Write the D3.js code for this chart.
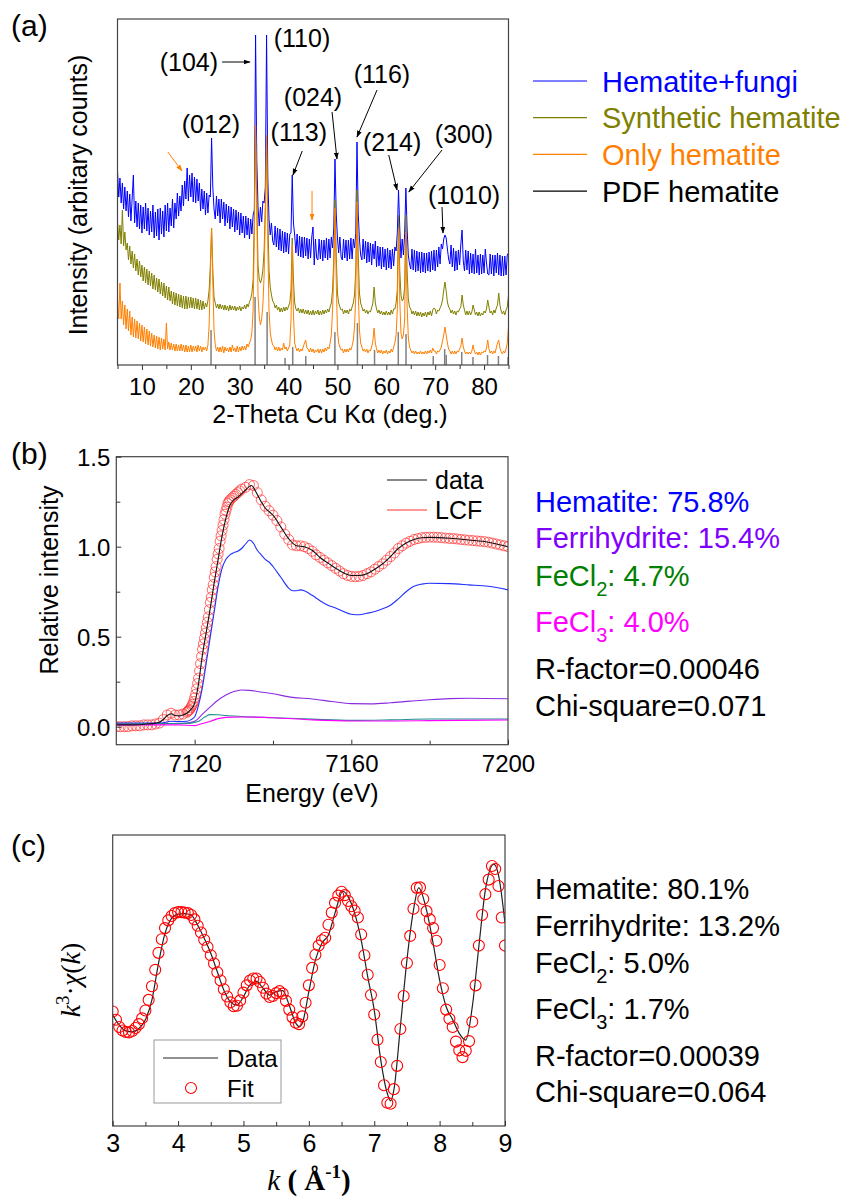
<!DOCTYPE html>
<html>
<head>
<meta charset="utf-8">
<script src="https://cdn.jsdelivr.net/npm/d3@7"></script>
<style>
  body { margin: 0; background: #fff; }
  svg { display: block; }
</style>
</head>
<body>
<svg id="fig" width="847" height="1198"></svg>
<script>
// ---------- (a) XRD patterns, 2-theta from 5 to 85 every 0.25 deg ----------
const xrdStart = 5, xrdStep = 0.25;
const fungiCounts = [
 194,168,187,162, 182,156,178,154, 174,148,171,144, 167,190,142,164, 138,162,136,160,
 132,158,136,162, 134,157,130,154, 133,160,127,153, 129,156,125,157, 131,154,128,160,
 134,162,133,157, 139,166,137,162, 146,172,149,169, 154,180,159,184, 166,197,164,190,
 168,192,163,188, 162,186,164,182, 154,176,156,174, 150,172,152,170, 168,227,178,156,
 146,169,149,166, 142,166,146,163, 139,161,142,159, 136,158,138,156, 133,155,135,153,
 130,152,132,149, 127,149,130,147, 126,146,131,150, 155,330,205,158, 139,158,143,164,
 162,178,330,188, 146,130,142,124, 120,139,118,137, 115,136,114,134, 112,133,113,132,
 111,131,132,190, 142,130,112,131, 109,129,108,128, 107,128,109,127, 106,126,107,128,
 138,100,126,107, 105,126,106,125, 104,125,107,127, 105,126,107,128, 117,137,206,152,
 127,112,128,108, 105,126,107,125, 104,125,106,127, 106,126,117,132, 223,152,126,110,
 105,126,106,124, 102,123,103,122, 100,121,106,124, 98,119,99,118, 96,118,98,116,
 95,117,97,115, 96,116,99,118, 114,132,175,137, 107,126,110,131, 177,137,110,101,
 96,116,95,115, 93,114,94,113, 92,113,93,112, 92,112,94,113, 93,114,95,115,
 94,115,98,118, 101,121,116,126, 130,127,116,106, 101,120,98,117, 94,114,95,115,
 100,121,135,104, 94,115,95,114, 91,112,92,111, 91,116,92,110, 90,111,91,110,
 92,116,102,91, 90,111,91,110, 89,110,92,112, 90,110,89,109, 89,109,90,110,
 112];
const synthCounts = [
 143,125,140,121, 155,119,133,115, 122,105,119,101, 114,97,111,94, 106,90,104,88,
 100,84,98,82, 96,80,94,79, 92,76,90,75, 87,73,86,71, 83,69,82,67,
 79,65,78,64, 74,61,73,60, 72,59,71,58, 70,57,69,56, 69,56,68,57,
 68,57,67,56, 67,56,66,55, 65,55,64,56, 62,58,64,75, 100,137,95,68,
 62,57,61,56, 61,56,60,55, 60,55,59,54, 60,55,59,55, 59,54,58,55,
 59,54,58,56, 60,56,61,58, 63,66,72,85, 150,240,170,100, 86,82,86,95,
 115,160,230,150, 95,78,70,64, 62,57,60,55, 58,53,57,53, 58,54,58,55,
 59,62,75,127, 85,62,56,54, 57,52,56,52, 56,51,55,51, 55,50,54,50,
 55,50,54,51, 55,50,54,50, 55,51,55,52, 56,53,58,62, 75,105,165,110,
 72,62,58,55, 56,51,55,52, 55,51,56,54, 58,62,70,95, 175,110,72,62,
 58,54,56,52, 55,51,54,53, 57,62,78,62, 56,52,55,51, 54,50,53,50,
 54,50,53,50, 55,51,56,56, 62,75,150,95, 70,64,66,78, 150,95,66,58,
 56,51,54,50, 54,49,53,49, 53,48,52,49, 53,48,53,50, 54,49,55,57,
 56,51,55,54, 57,60,65,75, 83,74,63,58, 56,52,55,51, 54,50,54,53,
 56,58,70,60, 55,50,54,50, 54,50,53,60, 55,50,53,49, 53,49,52,50,
 54,52,56,65, 58,52,54,50, 55,52,57,60, 72,60,54,51, 54,50,55,58,
 70];
const onlyCounts = [
 66,46,82,46, 64,40,60,36, 56,34,54,30, 48,28,46,27, 44,26,42,24,
 40,23,38,21, 36,20,34,19, 32,18,30,17, 29,16,28,15, 27,16,26,15,
 42,16,23,15, 22,15,21,14, 21,14,20,14, 21,14,20,13, 20,13,19,13,
 20,13,19,14, 19,13,20,14, 19,13,18,15, 18,14,20,40, 90,137,85,35,
 20,14,18,13, 18,13,19,12, 18,14,17,13, 18,13,20,14, 17,13,19,13,
 18,14,19,15, 19,15,21,18, 22,25,33,55, 130,240,150,70, 48,40,46,60,
 90,150,230,120, 55,33,25,20, 19,15,18,14, 18,14,17,15, 22,16,18,14,
 17,20,45,120, 50,22,17,14, 17,13,16,14, 18,22,25,17, 16,13,17,13,
 16,12,15,13, 16,12,16,12, 16,13,17,14, 18,16,22,30, 55,90,157,85,
 35,22,18,15, 16,12,16,13, 16,13,17,15, 19,25,38,70, 163,75,35,22,
 18,14,16,13, 16,12,15,14, 18,24,37,22, 16,12,15,12, 15,11,14,12,
 15,11,14,12, 16,13,18,22, 30,55,137,65, 32,26,30,45, 133,60,28,18,
 15,12,14,11, 14,11,13,11, 14,11,13,11, 14,11,14,12, 15,12,17,14,
 14,11,14,13, 15,18,24,30, 38,30,22,16, 14,11,14,11, 14,11,14,13,
 16,19,27,18, 14,11,13,11, 13,11,14,20, 14,11,13,10, 13,10,13,12,
 14,13,17,25, 16,12,14,11, 14,12,17,22, 25,17,13,11, 14,12,16,22,
 38];
const pdfPos = [24.14, 33.15, 35.61, 39.28, 40.85, 43.52, 49.48, 54.09, 57.59, 62.45,
                64.03, 69.6, 71.94, 72.26, 75.43, 77.73, 80.71, 82.94, 84.91];
const pdfInt = [35, 68, 53, 7, 18, 9, 33, 42, 15, 33, 31, 9, 16, 10, 13, 8, 10, 9, 8];
const xrdLegend = ["Hematite+fungi", "Synthetic hematite", "Only hematite", "PDF hematite"];
const xrdColors = ["#0000ff", "#808000", "#ff7f00", "#000000"];
const peakLabels = ["(104)", "(110)", "(012)", "(113)", "(024)", "(116)", "(214)", "(300)", "(1010)"];
const peakLabelPos = [[19.6,303],[42.75,327],[24.1,241],[42.1,233],[45.0,268],[59.1,291],[61.2,223],[75.9,231],[75.9,170]];
const peakArrows = [[26.4,303,32.1,303],[42.8,214,40.9,190],[48.9,253,49.9,206],[58.1,275,54.0,228],
                    [60.5,210,62.2,175],[71.4,215,64.6,173],[71.4,158,71.6,132]];
const fungiArrows = [[15.3,213,18.2,194],[44.8,174,44.8,145]];

// ---------- (b) Fe K-edge XANES and LCF ----------
const xanesData = [[7100,0.01],[7104,0.01],[7108,0.015],[7110,0.02],[7111,0.025],[7112,0.04],[7113,0.062],
 [7114,0.072],[7115,0.062],[7116,0.06],[7117,0.065],[7118,0.075],[7119,0.095],[7120,0.13],[7121,0.24],
 [7122,0.40],[7123,0.53],[7124,0.66],[7125,0.80],[7126,0.93],[7127,1.06],[7128,1.16],[7129,1.23],
 [7130,1.26],[7131,1.275],[7132,1.295],[7133,1.315],[7134,1.335],[7134.5,1.34],[7135,1.33],[7136,1.29],
 [7137,1.25],[7138,1.215],[7139,1.195],[7140,1.175],[7142,1.11],[7144,1.045],[7146,1.005],[7148,1.0],
 [7150,0.98],[7152,0.94],[7154,0.91],[7156,0.88],[7158,0.855],[7160,0.84],[7162,0.84],[7164,0.85],
 [7166,0.875],[7168,0.905],[7170,0.945],[7172,0.99],[7174,1.02],[7176,1.04],[7178,1.05],[7180,1.052],
 [7185,1.047],[7190,1.037],[7195,1.025],[7200,1.0]];
const lcfFit = [[7100,0],[7101,0],[7102,0],[7103,0],[7104,0.005],[7105,0.005],[7106,0.005],[7107,0.01],
 [7108,0.01],[7109,0.01],[7110,0.015],[7111,0.02],[7112,0.04],[7113,0.065],[7114,0.075],[7115,0.065],
 [7116,0.065],[7117,0.07],[7118,0.08],[7118.25,0.085],[7118.5,0.09],[7118.75,0.095],[7119,0.105],
 [7119.25,0.115],[7119.5,0.125],[7119.75,0.14],[7120,0.16],[7120.25,0.18],[7120.5,0.21],[7120.75,0.24],
 [7121,0.27],[7121.25,0.31],[7121.5,0.35],[7121.75,0.39],[7122,0.43],[7122.25,0.46],[7122.5,0.49],
 [7122.75,0.52],[7123,0.55],[7123.25,0.58],[7123.5,0.61],[7123.75,0.65],[7124,0.69],[7124.25,0.72],
 [7124.5,0.76],[7124.75,0.79],[7125,0.83],[7125.25,0.86],[7125.5,0.89],[7125.75,0.93],[7126,0.96],
 [7126.25,0.99],[7126.5,1.03],[7126.75,1.06],[7127,1.09],[7127.25,1.12],[7127.5,1.15],[7127.75,1.18],
 [7128,1.20],[7128.25,1.22],[7128.5,1.24],[7128.75,1.25],[7129,1.26],[7129.5,1.27],[7130,1.28],
 [7130.5,1.29],[7131,1.30],[7131.5,1.31],[7132,1.32],[7133,1.33],[7134,1.345],[7135,1.34],[7136,1.30],
 [7137,1.26],[7138,1.225],[7139,1.20],[7140,1.175],[7141,1.145],[7142,1.11],[7143,1.07],[7144,1.04],
 [7145,1.01],[7146,1.005],[7147,1.005],[7148,1.00],[7149,0.99],[7150,0.975],[7151,0.955],[7152,0.94],
 [7153,0.925],[7154,0.91],[7155,0.895],[7156,0.88],[7157,0.865],[7158,0.85],[7159,0.84],[7160,0.835],
 [7161,0.833],[7162,0.835],[7163,0.84],[7164,0.85],[7165,0.86],[7166,0.875],[7167,0.89],[7168,0.905],
 [7169,0.925],[7170,0.945],[7171,0.965],[7172,0.99],[7173,1.005],[7174,1.02],[7175,1.03],[7176,1.04],
 [7177,1.045],[7178,1.05],[7179,1.052],[7180,1.053],[7181,1.053],[7182,1.052],[7183,1.05],[7184,1.048],
 [7185,1.046],[7186,1.045],[7187,1.043],[7188,1.04],[7189,1.038],[7190,1.036],[7191,1.034],[7192,1.032],
 [7193,1.03],[7194,1.028],[7195,1.025],[7196,1.02],[7197,1.015],[7198,1.01],[7199,1.005],[7200,1.0]];
const hemComp = [[7100,0.02],[7110,0.02],[7112,0.022],[7114,0.03],[7116,0.028],[7118,0.03],[7119,0.038],
 [7120,0.055],[7121,0.12],[7122,0.22],[7123,0.36],[7124,0.50],[7125,0.64],[7126,0.78],[7127,0.88],
 [7128,0.93],[7129,0.955],[7130,0.967],[7131,0.975],[7132,0.99],[7133,1.015],[7134,1.037],[7135,1.02],
 [7136,0.98],[7137,0.955],[7138,0.93],[7139,0.915],[7140,0.89],[7142,0.83],[7144,0.77],[7145,0.755],
 [7146,0.755],[7147,0.76],[7148,0.755],[7150,0.73],[7152,0.70],[7154,0.675],[7156,0.66],[7158,0.64],
 [7160,0.625],[7162,0.622],[7164,0.63],[7166,0.64],[7168,0.655],[7170,0.675],[7172,0.71],[7174,0.75],
 [7176,0.78],[7178,0.792],[7180,0.797],[7185,0.795],[7190,0.788],[7195,0.78],[7200,0.76]];
const ferriComp = [[7100,0.015],[7116,0.018],[7118,0.02],[7120,0.03],[7122,0.07],[7124,0.11],[7126,0.148],
 [7128,0.176],[7130,0.195],[7132,0.204],[7134,0.202],[7136,0.196],[7140,0.183],[7145,0.163],[7150,0.154],
 [7155,0.14],[7160,0.128],[7165,0.127],[7170,0.133],[7175,0.142],[7180,0.15],[7185,0.156],[7190,0.158],
 [7200,0.155]];
const fecl2Comp = [[7100,0.015],[7116,0.018],[7119,0.02],[7121,0.03],[7122,0.045],[7123,0.06],[7124,0.067],
 [7126,0.066],[7128,0.062],[7132,0.057],[7140,0.05],[7150,0.042],[7160,0.035],[7170,0.038],[7180,0.043],
 [7200,0.043]];
const fecl3Comp = [[7100,0.01],[7116,0.01],[7120,0.006],[7122,0.018],[7124,0.03],[7126,0.045],[7128,0.052],
 [7132,0.054],[7140,0.05],[7150,0.038],[7160,0.032],[7170,0.032],[7180,0.034],[7200,0.037]];
const compColors = ["#2030ff", "#8a2be2", "#1f8f8f", "#ff00ff"];
const xanesLabels = ["Hematite: 75.8%", "Ferrihydrite: 15.4%", "FeCl_2: 4.7%", "FeCl_3: 4.0%",
                     "R-factor=0.00046", "Chi-square=0.071"];
const xanesLabelColors = ["#0000ff", "#8000ff", "#008000", "#ff00ff", "#000", "#000"];

// ---------- (c) EXAFS k3-weighted chi(k) ----------
const exafsData = [[3.0,-0.71],[3.1,-0.92],[3.2,-1.04],[3.3,-1.06],[3.4,-0.99],[3.5,-0.81],[3.6,-0.40],
 [3.7,0.35],[3.8,0.97],[3.9,1.28],[4.0,1.37],[4.1,1.38],[4.2,1.35],[4.3,1.14],[4.4,0.87],[4.5,0.56],
 [4.6,0.18],[4.7,-0.20],[4.8,-0.44],[4.9,-0.51],[5.0,-0.33],[5.1,-0.09],[5.2,-0.02],[5.3,-0.16],
 [5.4,-0.30],[5.5,-0.23],[5.6,-0.21],[5.7,-0.51],[5.8,-0.88],[5.85,-0.95],[5.9,-0.88],[6.0,-0.23],
 [6.1,0.42],[6.2,0.77],[6.3,0.94],[6.4,1.39],[6.52,1.84],[6.6,1.73],[6.7,1.39],[6.8,0.84],[6.9,0.08],
 [7.0,-0.61],[7.1,-1.64],[7.2,-2.33],[7.25,-2.48],[7.3,-2.26],[7.4,-0.95],[7.5,0.42],[7.6,1.45],
 [7.68,1.91],[7.8,1.45],[7.9,0.77],[8.0,0.01],[8.1,-0.54],[8.2,-0.81],[8.3,-1.09],[8.4,-1.23],
 [8.5,-0.54],[8.6,0.70],[8.7,1.87],[8.83,2.40],[8.9,2.18],[9.0,1.18]];
const fitStart = 3, fitStep = 0.05;
const fitValues = [
 -0.64,-0.81,-0.96,-1.03,-1.06,-1.07,-1.04,-0.98,-0.90,-0.78,-0.62,-0.40,-0.12,0.22,0.57,0.85,1.08,1.24,1.33,1.39,
 1.41,1.41,1.40,1.39,1.35,1.26,1.13,0.99,0.84,0.69,0.52,0.35,0.17,0.00,-0.18,-0.33,-0.45,-0.53,-0.52,-0.41,
 -0.25,-0.10,0.00,0.04,0.04,-0.03,-0.15,-0.27,-0.34,-0.32,-0.26,-0.22,-0.27,-0.42,-0.60,-0.76,-0.87,-0.90,-0.74,-0.46,
 -0.10,0.26,0.53,0.72,0.83,0.88,1.15,1.40,1.60,1.75,1.83,1.76,1.64,1.53,1.44,1.30,0.95,0.52,0.12,-0.30,
 -0.70,-1.22,-1.68,-2.16,-2.52,-2.54,-2.24,-1.76,-1.00,-0.32,0.36,0.92,1.48,1.91,1.92,1.68,1.43,1.26,1.08,0.82,
 0.32,-0.16,-0.60,-0.79,-0.96,-1.26,-1.44,-1.58,-1.45,-1.25,-0.85,-0.10,0.72,1.35,1.78,2.08,2.36,2.30,1.95,1.30,
 0.72];
const exafsLabels = ["Hematite: 80.1%", "Ferrihydrite: 13.2%", "FeCl_2: 5.0%", "FeCl_3: 1.7%",
                     "R-factor=0.00039", "Chi-square=0.064"];

// ---------- drawing ----------
const sans = '"Liberation Sans", Arial, sans-serif';
const serif = '"Liberation Serif", "Times New Roman", serif';
const svg = d3.select("#fig");
svg.append("rect").attr("width", 847).attr("height", 1198).attr("fill", "#fff");

const defs = svg.append("defs");
[["arrK", "#000"], ["arrO", "#ff7f00"]].forEach(([id, c]) => {
  defs.append("marker").attr("id", id).attr("viewBox", "0 0 10 10")
    .attr("refX", 9).attr("refY", 5).attr("markerWidth", 7).attr("markerHeight", 7)
    .attr("orient", "auto")
    .append("path").attr("d", "M0,1.5L10,5L0,8.5Z").attr("fill", c);
});

function styleAxis(g, size) {
  g.select(".domain").remove();
  g.selectAll("line").attr("stroke", "#333");
  g.selectAll("text").attr("font-family", sans).attr("font-size", size).attr("fill", "#000");
}

function frame(g, x, y) {
  g.append("rect")
    .attr("x", x.range()[0]).attr("y", y.range()[1])
    .attr("width", x.range()[1] - x.range()[0]).attr("height", y.range()[0] - y.range()[1])
    .attr("fill", "none").attr("stroke", "#444").attr("stroke-width", 1.2);
}

function clipFor(id, x, y) {
  defs.append("clipPath").attr("id", id).append("rect")
    .attr("x", x.range()[0]).attr("y", y.range()[1])
    .attr("width", x.range()[1] - x.range()[0]).attr("height", y.range()[0] - y.range()[1]);
  return `url(#${id})`;
}

// text with "_2" style subscripts
function chemText(g, x, y, str, color) {
  const t = g.append("text").attr("x", x).attr("y", y).attr("fill", color)
    .attr("font-family", sans).attr("font-size", 29);
  str.split(/_(\d)/).forEach((part, i) => {
    if (i % 2 === 1) t.append("tspan").attr("font-size", 20).attr("dy", 10).text(part);
    else if (part) t.append("tspan").attr("dy", i > 0 ? -10 : 0).text(part);
  });
}

// ===== panel (a) =====
const ax = d3.scaleLinear().domain([5, 85]).range([117.5, 508.5]);
const ay = d3.scaleLinear().domain([0, 346]).range([365, 19]);
const gA = svg.append("g");
const twoTheta = d3.range(fungiCounts.length).map(i => xrdStart + i * xrdStep);
const xrdLine = d3.line().x((d, i) => ax(twoTheta[i])).y(d => ay(d));

[fungiCounts, synthCounts, onlyCounts].forEach((s, k) => {
  gA.append("path").attr("d", xrdLine(s)).attr("fill", "none")
    .attr("stroke", xrdColors[k]).attr("stroke-width", 1).attr("stroke-linejoin", "round");
});

gA.selectAll("line.pdf").data(pdfPos).join("line").attr("class", "pdf")
  .attr("x1", d => ax(d)).attr("x2", d => ax(d))
  .attr("y1", ay(0)).attr("y2", (d, i) => ay(pdfInt[i]))
  .attr("stroke", "#808080").attr("stroke-width", 1.5);

frame(gA, ax, ay);

const axMajA = gA.append("g").attr("transform", `translate(0,${ay(0)})`)
  .call(d3.axisBottom(ax).tickValues(d3.range(10, 81, 10)).tickSize(5).tickSizeOuter(0));
styleAxis(axMajA, 24);
axMajA.selectAll("text").attr("y", 30).attr("dy", null);
const axMinA = gA.append("g").attr("transform", `translate(0,${ay(0)})`)
  .call(d3.axisBottom(ax).tickValues(d3.range(5, 86, 10)).tickFormat("").tickSize(4).tickSizeOuter(0));
styleAxis(axMinA, 24);

gA.append("text").attr("x", 330).attr("y", 423).attr("text-anchor", "middle")
  .attr("font-family", sans).attr("font-size", 25).text("2-Theta Cu Kα (deg.)");
gA.append("text").attr("transform", "translate(87,195) rotate(-90)").attr("text-anchor", "middle")
  .attr("font-family", sans).attr("font-size", 25).text("Intensity (arbitary counts)");
gA.append("text").attr("x", 11).attr("y", 36).attr("font-family", sans).attr("font-size", 30).text("(a)");

gA.selectAll("text.peak").data(peakLabels).join("text").attr("class", "peak")
  .attr("x", (d, i) => ax(peakLabelPos[i][0])).attr("y", (d, i) => ay(peakLabelPos[i][1]))
  .attr("dy", "0.36em").attr("text-anchor", "middle")
  .attr("font-family", sans).attr("font-size", 25).text(d => d);

gA.selectAll("line.parr").data(peakArrows).join("line").attr("class", "parr")
  .attr("x1", d => ax(d[0])).attr("y1", d => ay(d[1])).attr("x2", d => ax(d[2])).attr("y2", d => ay(d[3]))
  .attr("stroke", "#000").attr("stroke-width", 1).attr("marker-end", "url(#arrK)");
gA.selectAll("line.oarr").data(fungiArrows).join("line").attr("class", "oarr")
  .attr("x1", d => ax(d[0])).attr("y1", d => ay(d[1])).attr("x2", d => ax(d[2])).attr("y2", d => ay(d[3]))
  .attr("stroke", "#ff7f00").attr("stroke-width", 1).attr("marker-end", "url(#arrO)");

const legA = gA.append("g");
xrdLegend.forEach((name, i) => {
  const y = 81 + i * 36.7;
  legA.append("line").attr("x1", 533).attr("x2", 587).attr("y1", y).attr("y2", y)
    .attr("stroke", xrdColors[i]).attr("stroke-width", 1.2);
  legA.append("text").attr("x", 602).attr("y", y + 10.5).attr("fill", xrdColors[i])
    .attr("font-family", sans).attr("font-size", 29).text(name);
});

// ===== panel (b) =====
const bx = d3.scaleLinear().domain([7100, 7200]).range([116.3, 508]);
const by = d3.scaleLinear().domain([-0.1, 1.5]).range([744.7, 456.7]);
const gB = svg.append("g");
const clipB = clipFor("clipB", bx, by);
const bLine = d3.line().x(d => bx(d[0])).y(d => by(d[1])).curve(d3.curveMonotoneX);

gB.append("g").attr("clip-path", clipB).selectAll("circle").data(lcfFit).join("circle")
  .attr("cx", d => bx(d[0])).attr("cy", d => by(d[1])).attr("r", 5)
  .attr("fill", "none").attr("stroke", "#ff3030").attr("stroke-width", 0.9).attr("stroke-opacity", 0.8);

[hemComp, ferriComp, fecl2Comp, fecl3Comp].forEach((s, k) => {
  gB.append("path").attr("d", bLine(s)).attr("fill", "none")
    .attr("stroke", compColors[k]).attr("stroke-width", 1.1);
});
gB.append("path").attr("d", bLine(xanesData)).attr("fill", "none")
  .attr("stroke", "#111").attr("stroke-width", 1.1);

frame(gB, bx, by);

const bxMaj = gB.append("g").attr("transform", `translate(0,${by(-0.1)})`)
  .call(d3.axisBottom(bx).tickValues([7120, 7160, 7200]).tickFormat(d3.format("d")).tickSize(-5).tickSizeOuter(0));
styleAxis(bxMaj, 24);
bxMaj.selectAll("text").attr("y", 27).attr("dy", null);
const bxMin = gB.append("g").attr("transform", `translate(0,${by(-0.1)})`)
  .call(d3.axisBottom(bx).tickValues([7140, 7180]).tickFormat("").tickSize(-4).tickSizeOuter(0));
styleAxis(bxMin, 24);
const byMaj = gB.append("g").attr("transform", `translate(${bx(7100)},0)`)
  .call(d3.axisLeft(by).tickValues([0, 0.5, 1.0, 1.5]).tickFormat(d3.format(".1f")).tickSize(-5).tickSizeOuter(0));
styleAxis(byMaj, 24);
byMaj.selectAll("text").attr("x", -6).attr("dy", null).attr("y", 8.5);
const byMin = gB.append("g").attr("transform", `translate(${bx(7100)},0)`)
  .call(d3.axisLeft(by).tickValues([0.25, 0.75, 1.25]).tickFormat("").tickSize(-4).tickSizeOuter(0));
styleAxis(byMin, 24);

gB.append("text").attr("x", 312).attr("y", 802).attr("text-anchor", "middle")
  .attr("font-family", sans).attr("font-size", 25).text("Energy (eV)");
gB.append("text").attr("transform", "translate(58,580) rotate(-90)").attr("text-anchor", "middle")
  .attr("font-family", sans).attr("font-size", 25).text("Relative intensity");
gB.append("text").attr("x", 11).attr("y", 464).attr("font-family", sans).attr("font-size", 30).text("(b)");

[["data", "#111", 480], ["LCF", "#ff3030", 510]].forEach(([name, c, y]) => {
  gB.append("line").attr("x1", 387).attr("x2", 427).attr("y1", y).attr("y2", y)
    .attr("stroke", c).attr("stroke-width", 1.2);
  gB.append("text").attr("x", 435).attr("y", y + 9).attr("font-family", sans)
    .attr("font-size", 25).text(name);
});

const xanesBase = [512, 548, 586, 632, 679, 716];
xanesLabels.forEach((s, i) => chemText(gB, 535, xanesBase[i], s, xanesLabelColors[i]));

// ===== panel (c) =====
const cx = d3.scaleLinear().domain([3, 9]).range([112.7, 505]);
const cy = d3.scaleLinear().domain([-3, 3]).range([1126, 835]);
const gC = svg.append("g");
const clipC = clipFor("clipC", cx, cy);
const fitK = d3.range(fitValues.length).map(i => fitStart + i * fitStep);

gC.append("path").attr("clip-path", clipC)
  .attr("d", d3.line().x(d => cx(d[0])).y(d => cy(d[1])).curve(d3.curveMonotoneX)(exafsData))
  .attr("fill", "none").attr("stroke", "#222").attr("stroke-width", 1.2);
gC.append("g").attr("clip-path", clipC).selectAll("circle").data(fitValues).join("circle")
  .attr("cx", (d, i) => cx(fitK[i])).attr("cy", d => cy(d)).attr("r", 5.5)
  .attr("fill", "none").attr("stroke", "#ff0000").attr("stroke-width", 1.1);

frame(gC, cx, cy);

const cxMaj = gC.append("g").attr("transform", `translate(0,${cy(-3)})`)
  .call(d3.axisBottom(cx).tickValues(d3.range(3, 9.01, 1)).tickFormat(d3.format("d")).tickSize(-5).tickSizeOuter(0));
styleAxis(cxMaj, 25);
cxMaj.selectAll("text").attr("y", 26).attr("dy", null);
const cxMin = gC.append("g").attr("transform", `translate(0,${cy(-3)})`)
  .call(d3.axisBottom(cx).tickValues(d3.range(3.5, 9, 1)).tickFormat("").tickSize(-4).tickSizeOuter(0));
styleAxis(cxMin, 25);

const kx = gC.append("text").attr("x", 309).attr("y", 1190).attr("text-anchor", "middle")
  .attr("font-family", serif).attr("font-size", 29);
kx.append("tspan").attr("font-style", "italic").text("k");
kx.append("tspan").attr("font-weight", "bold").text(" ( Å");
kx.append("tspan").attr("font-weight", "bold").attr("font-size", 19).attr("dy", -12).text("-1");
kx.append("tspan").attr("font-weight", "bold").attr("dy", 12).text(")");

const ky = gC.append("text").attr("transform", "translate(80,980) rotate(-90)").attr("text-anchor", "middle")
  .attr("font-family", serif).attr("font-size", 28);
ky.append("tspan").attr("font-style", "italic").text("k");
ky.append("tspan").attr("font-size", 19).attr("dy", -11).text("3");
ky.append("tspan").attr("dy", 11).text("·");
ky.append("tspan").attr("font-style", "italic").text("χ");
ky.append("tspan").text("(");
ky.append("tspan").attr("font-style", "italic").text("k");
ky.append("tspan").text(")");

gC.append("text").attr("x", 11).attr("y", 856).attr("font-family", sans).attr("font-size", 30).text("(c)");

const legC = gC.append("g");
legC.append("rect").attr("x", 154).attr("y", 1040).attr("width", 127).attr("height", 63)
  .attr("fill", "#fff").attr("stroke", "#999").attr("stroke-width", 1);
legC.append("line").attr("x1", 163).attr("x2", 218).attr("y1", 1058).attr("y2", 1058)
  .attr("stroke", "#222").attr("stroke-width", 1.2);
legC.append("text").attr("x", 227).attr("y", 1067).attr("font-family", sans).attr("font-size", 24).text("Data");
legC.append("circle").attr("cx", 191).attr("cy", 1088).attr("r", 5.5)
  .attr("fill", "none").attr("stroke", "#ff0000").attr("stroke-width", 1.1);
legC.append("text").attr("x", 227).attr("y", 1097).attr("font-family", sans).attr("font-size", 24).text("Fit");

const exafsBase = [899, 936, 973, 1019, 1066, 1102];
exafsLabels.forEach((s, i) => chemText(gC, 535, exafsBase[i], s, "#000"));
</script>
</body>
</html>
